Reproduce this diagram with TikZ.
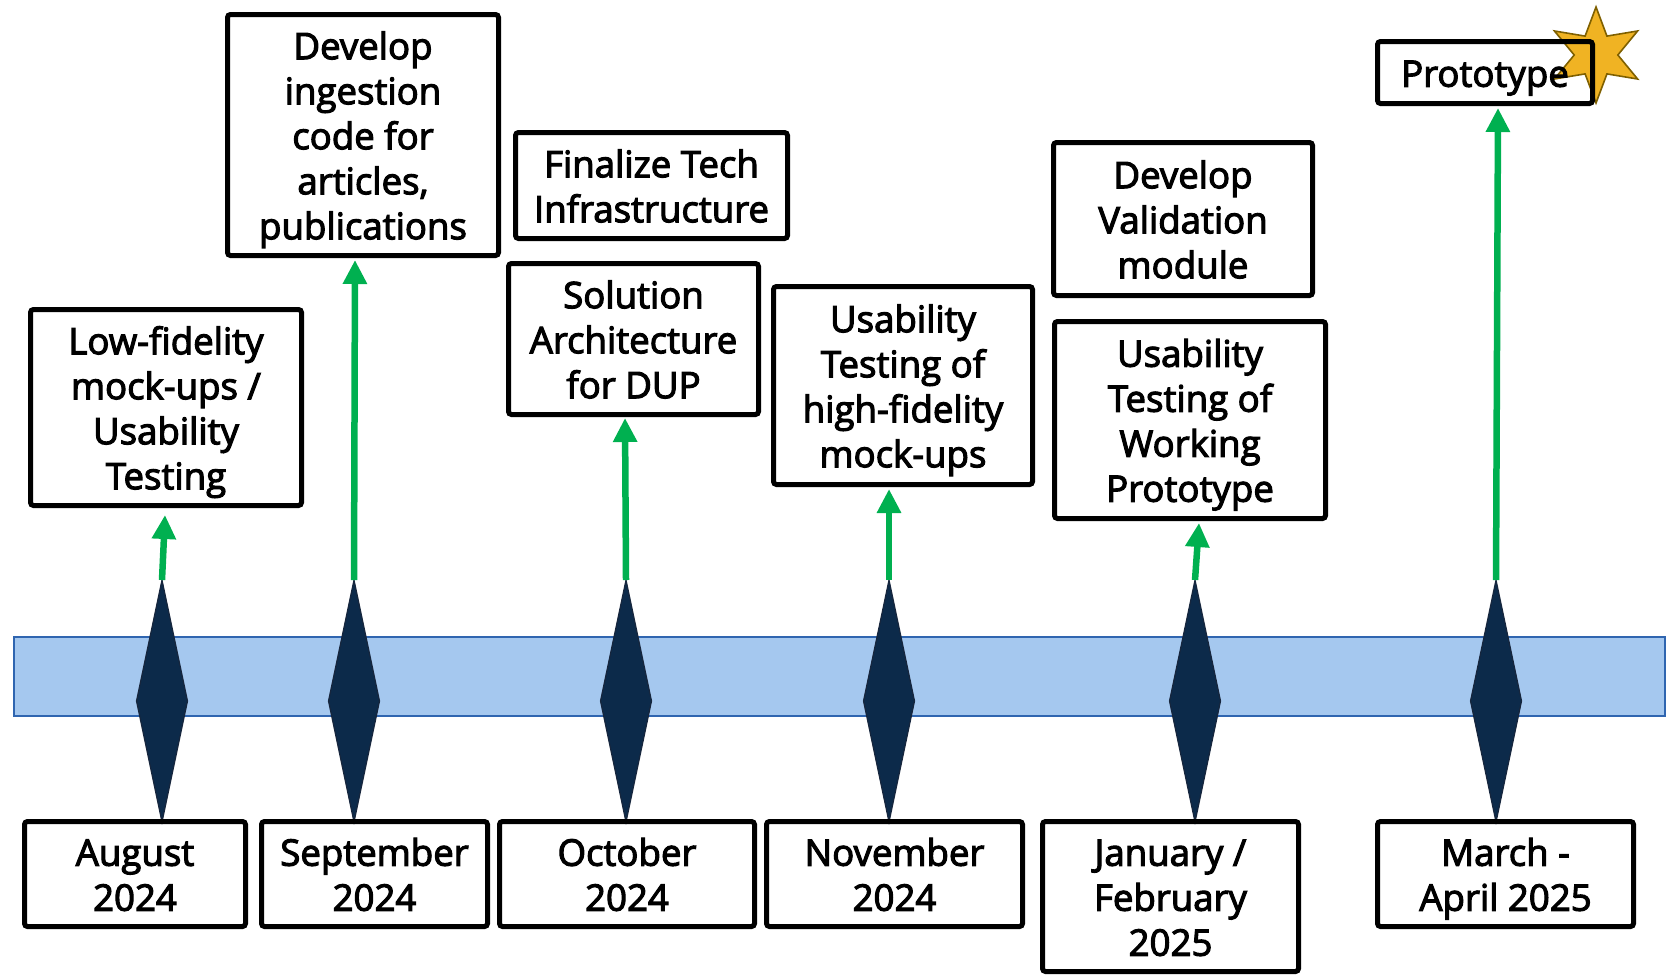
\documentclass[tikz,border=0pt]{standalone}
\usepackage{fontspec}
\setmainfont{Open Sans}
\newfontfamily\labelfont{Open Sans}[FakeBold=3]
\usetikzlibrary{arrows.meta,shapes.geometric}

\definecolor{mgreen}{HTML}{00B050}
\definecolor{bandfill}{HTML}{A5C8EF}
\definecolor{bandline}{HTML}{2F65B0}
\definecolor{navy}{HTML}{0C2A4A}
\definecolor{navyline}{HTML}{17263D}
\definecolor{starfill}{HTML}{F0B323}
\definecolor{starline}{HTML}{7F6000}

% centred lines of a box, set slightly below the box centre
\newcommand\boxlines[1]{\raisebox{-2.6pt}[\height][\depth]{\begin{tabular}{@{}c@{}}#1\end{tabular}}}

\begin{document}
\begin{tikzpicture}[
  x=0.5pt, y=-0.5pt,
  box/.style={draw=black, line width=2.5pt, rounded corners=1.5pt, inner sep=0pt, outer sep=0pt,
              align=center, font=\labelfont\fontsize{18.3}{22.5}\selectfont},
  gem/.style={diamond, fill=navy, draw=navyline, line width=0.6pt, inner sep=0pt, outer sep=0pt,
              minimum width=25.5pt, minimum height=121pt},
  rise/.style={draw=mgreen, line width=3.25pt, -{Triangle[width=11.5pt,length=12pt]}}
]
\useasboundingbox (0,0) rectangle (1673,975);

% timeline band
\node[draw=bandline, fill=bandfill, line width=1pt, inner sep=0pt, outer sep=0pt,
      minimum width=825.5pt, minimum height=39.5pt] (band) at (839.5,676.5) {};

% milestone markers
\node[gem] (d1) at (162,701) {};
\node[gem] (d2) at (354,701) {};
\node[gem] (d3) at (626,701) {};
\node[gem] (d4) at (889,701) {};
\node[gem] (d5) at (1195,701) {};
\node[gem] (d6) at (1496,701) {};

% activities above the timeline
\node[box, minimum width=135.5pt, minimum height=98pt]  (lowfi)  at (166,407.5)  {\boxlines{Low-fidelity\\mock-ups /\\Usability\\Testing}};
\node[box, minimum width=135.5pt, minimum height=120.5pt] (ingest) at (363,135) {\boxlines{Develop\\ingestion\\code for\\articles,\\publications}};
\node[box, minimum width=136pt, minimum height=53pt]    (tech)   at (651.5,185.5) {\boxlines{Finalize Tech\\Infrastructure}};
\node[box, minimum width=125pt, minimum height=75.5pt]  (arch)   at (633.5,339)   {\boxlines{Solution\\Architecture\\for DUP}};
\node[box, minimum width=129.5pt, minimum height=99pt]  (hifi)   at (903,385.5)   {\boxlines{Usability\\Testing of\\high-fidelity\\mock-ups}};
\node[box, minimum width=129.5pt, minimum height=76.5pt] (valid) at (1183,219)    {\boxlines{Develop\\Validation\\module}};
\node[box, minimum width=135.5pt, minimum height=98.5pt] (work)  at (1190,420)    {\boxlines{Usability\\Testing of\\Working\\Prototype}};

% final milestone with its star
\node[star, star points=6, star point ratio=2.2, fill=starfill, draw=starline, line width=0.8pt,
      inner sep=0pt, minimum size=48pt] (star) at (1596,55) {};
\node[box, minimum width=107.5pt, minimum height=31pt] (proto) at (1485,72.5) {\boxlines{Prototype}};

% dates below the timeline
\node[box, minimum width=110.5pt, minimum height=52.5pt] (aug) at (135,874)    {\boxlines{August\\2024}};
\node[box, minimum width=113pt,   minimum height=52.5pt] (sep) at (374.5,874)  {\boxlines{September\\2024}};
\node[box, minimum width=127.5pt, minimum height=52.5pt] (oct) at (627,874)    {\boxlines{October\\2024}};
\node[box, minimum width=128pt,   minimum height=52.5pt] (nov) at (894.5,874)  {\boxlines{November\\2024}};
\node[box, minimum width=128pt,   minimum height=75pt]   (jan) at (1170.5,896.5) {\boxlines{January /\\February\\2025}};
\node[box, minimum width=128pt,   minimum height=52.5pt] (mar) at (1505.5,874) {\boxlines{March -\\April 2025}};

% arrows from each marker up to its activity
\draw[rise] (d1.north) -- ([xshift=-0.5pt,yshift=-4.75pt]lowfi.south);
\draw[rise] (d2.north) -- ([xshift=-4pt,yshift=-2.25pt]ingest.south);
\draw[rise] (d3.north) -- ([xshift=-4.25pt,yshift=-1.75pt]arch.south);
\draw[rise] (d4.north) -- ([xshift=-7pt,yshift=-2.25pt]hifi.south);
\draw[rise] (d5.north) -- ([xshift=4.5pt,yshift=-2.25pt]work.south);
\draw[rise] (d6.north) -- ([xshift=6.5pt,yshift=-2.25pt]proto.south);
\end{tikzpicture}
\end{document}
